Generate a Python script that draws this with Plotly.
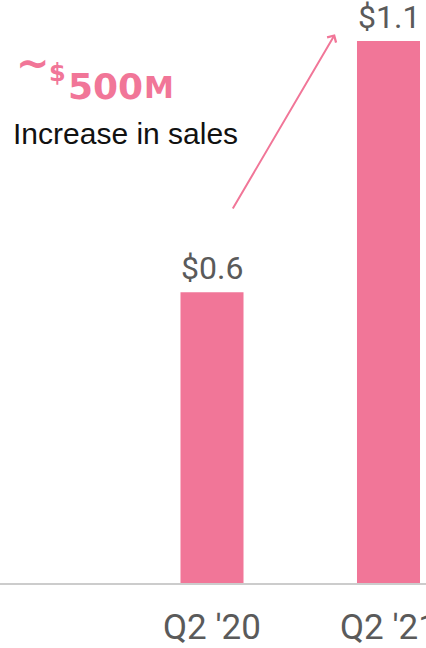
import plotly.graph_objects as go

categories = ["Q2 '20", "Q2 '21"]
sales_bn = [0.59, 1.1]
bar_labels = [f"${v:.1f}" for v in sales_bn]
headline = "500"
headline_sub = "Increase in sales"

PINK = "#F17698"
GREY = "#5a5a5a"

W, H = 426, 648
B = 65
plot_h = H - B
px_per_unit = 492.7
x_pos = list(range(len(categories)))


def px(x):
    return x / W


def py(y):
    return (plot_h - y) / plot_h


fig = go.Figure()
fig.add_trace(go.Bar(
    x=x_pos, y=sales_bn, width=0.357,
    marker=dict(color=PINK, line=dict(width=0)),
    hoverinfo="skip",
))

for xi, v, lab in zip(x_pos, sales_bn, bar_labels):
    fig.add_annotation(x=xi, y=v, xref="x", yref="y", text=lab, showarrow=False,
                       yanchor="bottom", yshift=4, borderpad=0,
                       font=dict(family="Roboto", size=32, color=GREY))

for xi, cat in zip(x_pos, categories):
    fig.add_annotation(x=xi, y=py(628), xref="x", yref="paper", text=cat,
                       showarrow=False, yanchor="middle", xanchor="center",
                       borderpad=0,
                       font=dict(family="Roboto", size=35, color=GREY))

# arrow
fig.add_annotation(x=0.697, y=1.114, ax=0.113, ay=0.757, xref="x", yref="y",
                   axref="x", ayref="y", text="", showarrow=True,
                   arrowhead=4, arrowsize=1.0, arrowwidth=2, arrowcolor=PINK)

# headline pieces
hfont = dict(family="DejaVu Sans", color=PINK, weight="bold")
fig.add_annotation(x=px(14), y=py(63), xref="paper", yref="paper",
                   xanchor="left", yanchor="middle", showarrow=False,
                   text="~", font=dict(hfont, size=40))
fig.add_annotation(x=px(47), y=py(73), xref="paper", yref="paper",
                   xanchor="left", yanchor="middle", showarrow=False,
                   text="$", font=dict(hfont, size=24))
fig.add_annotation(x=px(66), y=py(86), xref="paper", yref="paper",
                   xanchor="left", yanchor="middle", showarrow=False,
                   text=headline, font=dict(hfont, size=36))
fig.add_annotation(x=px(142), y=py(88), xref="paper", yref="paper",
                   xanchor="left", yanchor="middle", showarrow=False,
                   text="M", font=dict(hfont, size=30))

fig.add_annotation(
    x=px(11), y=py(133), xref="paper", yref="paper",
    xanchor="left", yanchor="middle", showarrow=False,
    text=headline_sub,
    font=dict(family="Liberation Sans", size=30, color="#111111"),
)

fig.update_layout(
    width=W, height=H,
    margin=dict(l=0, r=0, t=0, b=B, pad=0),
    paper_bgcolor="white", plot_bgcolor="white",
    showlegend=False,
    xaxis=dict(
        range=[-212 / 176.5, (W - 212) / 176.5],
        showticklabels=False,
        ticks="", showgrid=False, zeroline=False,
        showline=True, linecolor="#cccccc", linewidth=2,
    ),
    yaxis=dict(range=[0, plot_h / px_per_unit], visible=False, showgrid=False,
               zeroline=False),
)

fig.write_html("out.html")
